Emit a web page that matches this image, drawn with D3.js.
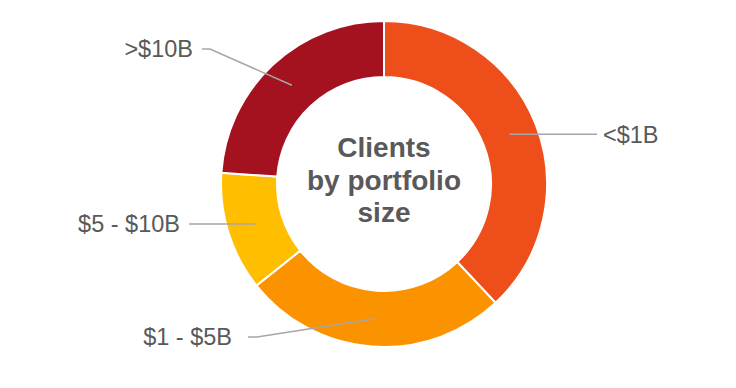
<!DOCTYPE html>
<html>
<head>
<meta charset="utf-8">
<script src="https://cdn.jsdelivr.net/npm/d3@7"></script>
<style>
  html, body { margin: 0; padding: 0; background: #fff; }
  svg { display: block; font-family: "Liberation Sans", Arial, sans-serif; }
</style>
</head>
<body>
<svg id="chart" width="736" height="388"></svg>
<script>
// data (share of clients, %)
const categories = ["<$1B", "$1 - $5B", "$5 - $10B", ">$10B"];
const values = [38, 26.3, 11.8, 23.9];
const colors = ["#ee4f1a", "#fb9300", "#ffbf00", "#a5121f"];
const titleLines = ["Clients", "by portfolio", "size"];

// where each label's leader line ends (optional elbow, end x), text gap and side
const labelLayout = [
  { elbow: null, endX: 597, gap: 6, side: "right" },
  { elbow: [257, 337], endX: 248, gap: 16, side: "left" },
  { elbow: null, endX: 189, gap: 9, side: "left" },
  { elbow: [210, 49], endX: 202, gap: 9, side: "left" }
];

const cx = 384, cy = 184;
const outerR = 163, innerR = 107;

const svg = d3.select("#chart");
const g = svg.append("g").attr("transform", `translate(${cx},${cy})`);

const pie = d3.pie().sort(null).value(d => d.value);
const arcs = pie(categories.map((c, i) => ({ name: c, value: values[i], i })));

const arc = d3.arc().innerRadius(innerR).outerRadius(outerR);
const midArc = d3.arc().innerRadius((innerR + outerR) / 2).outerRadius((innerR + outerR) / 2);

g.selectAll("path.slice")
  .data(arcs)
  .enter().append("path")
  .attr("class", "slice")
  .attr("d", arc)
  .attr("fill", d => colors[d.data.i])
  .attr("stroke", "#fff")
  .attr("stroke-width", 2);

// leader lines + labels
arcs.forEach(d => {
  const lay = labelLayout[d.data.i];
  const c = midArc.centroid(d);
  const pts = [[c[0] + cx, c[1] + cy]];
  let ly;
  if (lay.elbow) {
    pts.push(lay.elbow);
    ly = lay.elbow[1];
  } else {
    ly = c[1] + cy;
  }
  pts.push([lay.endX, ly]);

  svg.append("path")
    .attr("d", d3.line()(pts))
    .attr("fill", "none")
    .attr("stroke", "#a6a6a6")
    .attr("stroke-width", 1.5);

  svg.append("text")
    .attr("x", lay.side === "right" ? lay.endX + lay.gap : lay.endX - lay.gap)
    .attr("y", ly)
    .attr("dy", "0.35em")
    .attr("text-anchor", lay.side === "right" ? "start" : "end")
    .attr("font-size", 23.5)
    .attr("fill", "#595959")
    .text(d.data.name);
});

// centre title
g.append("text")
  .attr("text-anchor", "middle")
  .attr("font-size", 28)
  .attr("font-weight", "bold")
  .attr("fill", "#595959")
  .selectAll("tspan")
  .data(titleLines)
  .enter().append("tspan")
  .attr("x", 0)
  .attr("y", (d, i) => -27 + i * 32.5)
  .text(d => d);
</script>
</body>
</html>
